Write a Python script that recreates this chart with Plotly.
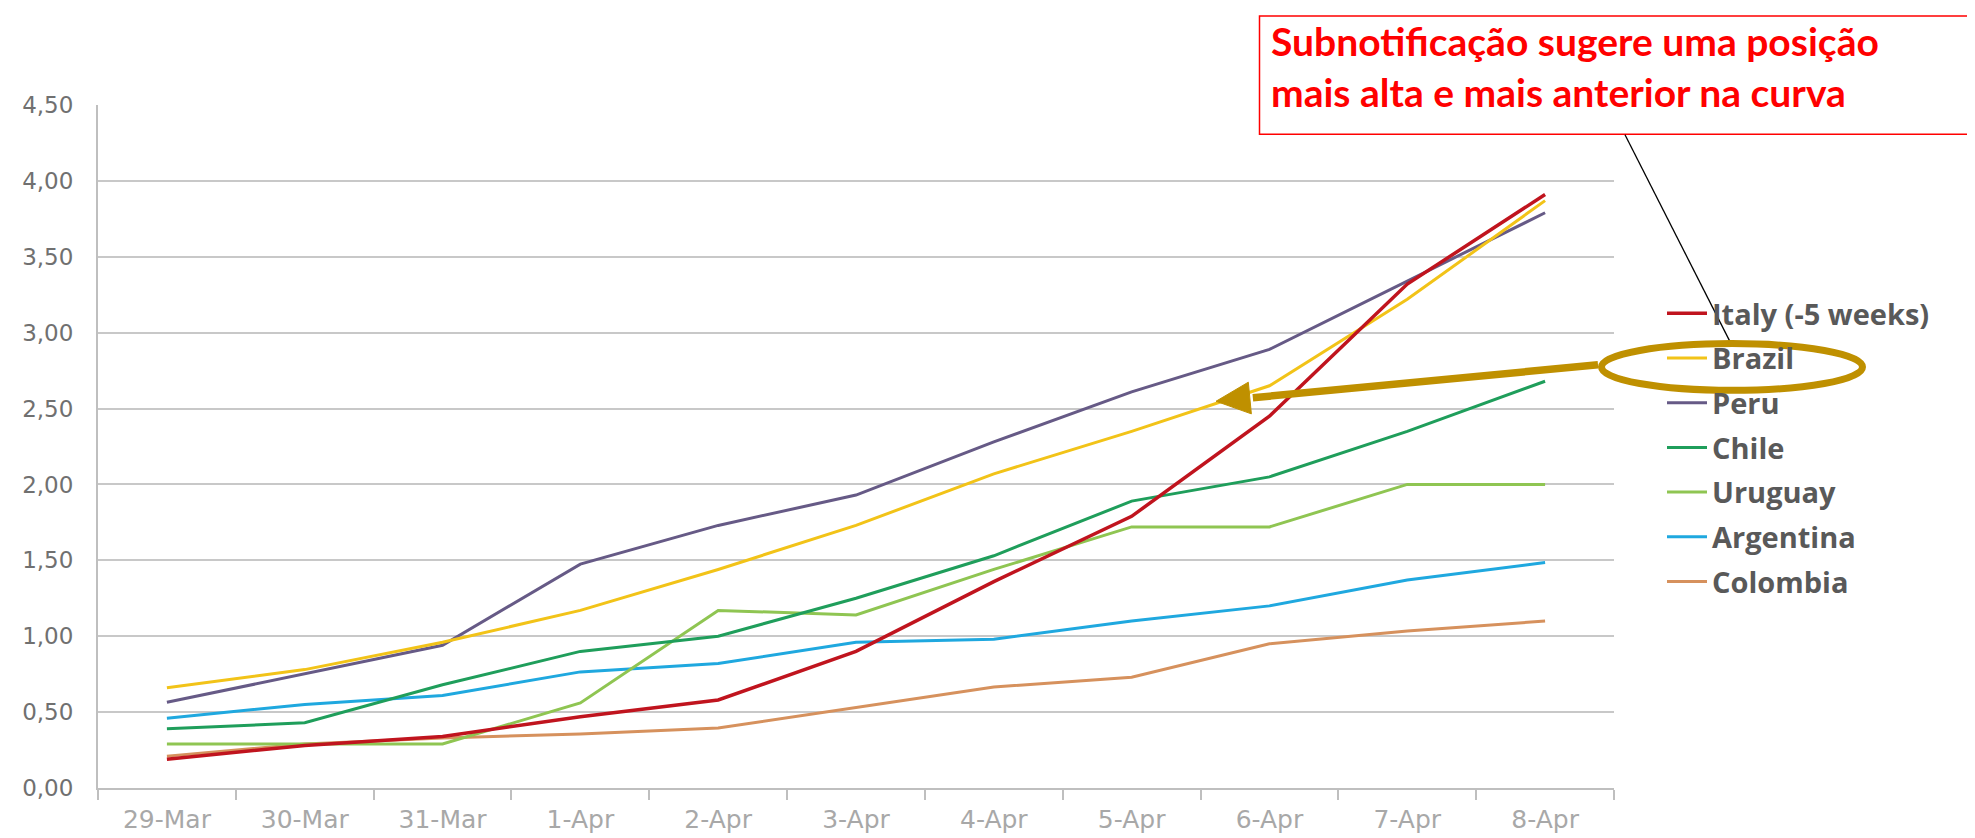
import plotly.graph_objects as go

# ---------------- data ----------------
dates = ["29-Mar", "30-Mar", "31-Mar", "1-Apr", "2-Apr", "3-Apr",
         "4-Apr", "5-Apr", "6-Apr", "7-Apr", "8-Apr"]

italy = [0.19, 0.28, 0.34, 0.47, 0.58, 0.90, 1.36, 1.79, 2.45, 3.32, 3.91]
brazil = [0.66, 0.78, 0.96, 1.17, 1.44, 1.73, 2.07, 2.35, 2.65, 3.22, 3.87]
peru = [0.565, 0.75, 0.94, 1.475, 1.73, 1.93, 2.28, 2.61, 2.89, 3.34, 3.79]
chile = [0.39, 0.43, 0.68, 0.90, 1.00, 1.25, 1.53, 1.89, 2.05, 2.35, 2.68]
uruguay = [0.29, 0.29, 0.29, 0.56, 1.17, 1.14, 1.44, 1.72, 1.72, 2.00, 2.00]
argentina = [0.46, 0.55, 0.61, 0.765, 0.82, 0.96, 0.98, 1.10, 1.20, 1.37, 1.485]
colombia = [0.21, 0.29, 0.33, 0.355, 0.395, 0.53, 0.665, 0.73, 0.95, 1.035, 1.10]

names = ["Italy (-5 weeks)", "Brazil", "Peru", "Chile", "Uruguay", "Argentina", "Colombia"]
values = [italy, brazil, peru, chile, uruguay, argentina, colombia]
colors = ["#C0141E", "#F2C318", "#665A86", "#1F9E5B", "#8FC552", "#1FA8DF", "#D6915D"]
widths = [3.5, 3, 3, 3, 3, 3, 3]

y_ticks = [0, 0.5, 1, 1.5, 2, 2.5, 3, 3.5, 4, 4.5]

note_lines = ["Subnotificação sugere uma posição", "mais alta e mais anterior na curva"]

# ---------------- geometry ----------------
W, H = 1975, 838
L, R, T, B = 90, 1606, 97, 784


def px(x):
    return (x - L) / (R - L)


def py(y):
    return (B - y) / (B - T)


fig = go.Figure()
# draw Colombia first ... Italy last (on top); legendrank keeps Italy first in legend
entries = list(enumerate(zip(names, values, colors, widths)))
for rank, (name, vals, col, w) in reversed(entries):
    fig.add_trace(go.Scatter(
        x=dates, y=vals, mode="lines", name=name, legendgroup=name,
        legendrank=rank + 1,
        line=dict(color=col, width=w), hoverinfo="skip"))

gold = "#BF9000"
shapes = []
# red note box
shapes.append(dict(type="rect", xref="paper", yref="paper",
                   x0=px(1251.5), x1=px(1974.5), y0=py(126.5), y1=py(7.5),
                   line=dict(color="#FF0000", width=1.5), fillcolor="rgba(0,0,0,0)"))
# thin connector line
shapes.append(dict(type="line", xref="paper", yref="paper",
                   x0=px(1617), y0=py(127), x1=px(1723), y1=py(337),
                   line=dict(color="black", width=1.3)))
# ellipse around Brazil legend entry
shapes.append(dict(type="circle", xref="paper", yref="paper",
                   x0=px(1593.5), x1=px(1854.5), y0=py(384), y1=py(337),
                   line=dict(color=gold, width=7)))
# arrow shaft + head
tail = (1590, 358.3)
tip = (1208.0, 395.0)
dx, dy = tail[0] - tip[0], tail[1] - tip[1]
ln = (dx ** 2 + dy ** 2) ** 0.5
ux, uy = dx / ln, dy / ln
nx, ny = -uy, ux
hl, hw = 34, 16
bx, by = tip[0] + hl * ux, tip[1] + hl * uy
shapes.append(dict(type="line", xref="paper", yref="paper",
                   x0=px(tail[0]), y0=py(tail[1]), x1=px(bx + 3 * ux), y1=py(by + 3 * uy),
                   line=dict(color=gold, width=7.5)))
c1 = (bx + hw * nx, by + hw * ny)
c2 = (bx - hw * nx, by - hw * ny)
path = "M {},{} L {},{} L {},{} Z".format(px(tip[0]), py(tip[1]), px(c1[0]), py(c1[1]),
                                         px(c2[0]), py(c2[1]))
shapes.append(dict(type="path", xref="paper", yref="paper", path=path,
                   fillcolor=gold, line=dict(color=gold, width=1)))

annotations = []
for i, txt in enumerate(note_lines):
    annotations.append(dict(
        text=txt, xref="paper", yref="paper", x=px(1261), y=py(33 + 51 * i),
        xanchor="left", yanchor="middle", showarrow=False,
        font=dict(family="Lato", size=39, color="#FF0000", weight="bold")))

fig.update_layout(
    width=W, height=H,
    margin=dict(l=L, r=W - R, t=T, b=H - B, pad=0),
    paper_bgcolor="white", plot_bgcolor="white",
    separators=",.",
    showlegend=True,
    legend=dict(x=px(1654), xanchor="left", y=py(281), yanchor="top",
                traceorder="grouped", tracegroupgap=4,
                font=dict(family="Open Sans", size=29, color="#595959", weight="bold"),
                bgcolor="rgba(0,0,0,0)", itemwidth=40),
    xaxis=dict(type="category", range=[-0.5, 10.5], showgrid=False,
               showline=True, linecolor="#BFBFBF", linewidth=2,
               ticks="outside", tickson="boundaries", ticklen=10, tickwidth=2,
               tickcolor="#BFBFBF", ticklabelstandoff=8,
               tickfont=dict(family="DejaVu Sans", size=25, color="#A8A8A8")),
    yaxis=dict(range=[0, 4.5], tickvals=y_ticks, tickformat=".2f",
               showgrid=True, gridcolor="#C8C8C8", gridwidth=2,
               zeroline=False, showline=True, linecolor="#BFBFBF", linewidth=2,
               ticks="", ticklabelstandoff=18,
               tickfont=dict(family="DejaVu Sans", size=23, color="#707070")),
    shapes=shapes, annotations=annotations,
)

fig.write_html("out.html")
